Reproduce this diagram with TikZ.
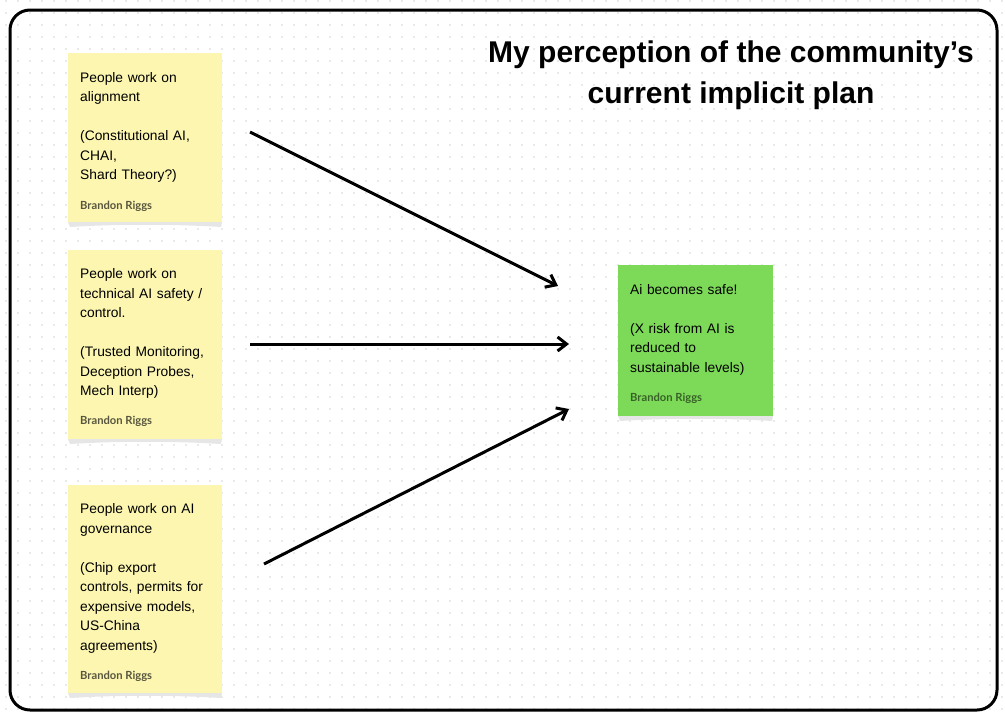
\documentclass[tikz,border=0pt]{standalone}
\usepackage{fontspec}
\setmainfont{Liberation Sans}
\newfontfamily\authfont{Lato}
\usetikzlibrary{arrows.meta,positioning}
\definecolor{stickyyel}{HTML}{FCF6B1}
\definecolor{stickygrn}{HTML}{7DDA58}
\definecolor{gridc}{HTML}{D4D4D4}
\definecolor{shadowc}{HTML}{E6E6E6}
\tikzset{
  note/.style={anchor=north west,minimum width=154pt,inner sep=0pt,outer sep=0pt},
  body/.style={anchor=base west,text width=142pt,align=left,inner sep=0pt,
               font=\fontsize{13.8}{19.5}\selectfont},
  auth/.style={anchor=base west,inner sep=0pt,text=black!50!stickyyel!70!black,
               font=\authfont\bfseries\fontsize{11.2}{13}\selectfont},
  ttl/.style={align=center,inner sep=0pt,font=\bfseries\fontsize{30}{41}\selectfont},
  ar/.style ={-{Straight Barb[length=9pt,width=14pt]},line width=3pt},
}

\begin{document}
\begin{tikzpicture}[x=1pt,y=-1pt]
  \useasboundingbox (0,0) rectangle (1005,716);
  % dotted board
  \foreach \i in {0,...,83}
    \foreach \j in {0,...,59}
      \fill[gridc] (6+12*\i,1+12*\j) circle (0.9);
  \draw[line width=3pt,rounded corners=20pt] (10,10) rectangle (997,710);

  \node[ttl] (title) at (731,75) {My perception of the community’s\\current implicit plan};

  % sticky notes
  \node[note,fill=stickyyel,minimum height=169pt] (align) at (68,53) {};
  \node[note,fill=stickyyel,minimum height=189pt] (tech)  at (68,250) {};
  \node[note,fill=stickyyel,minimum height=208pt] (gov)   at (68,485) {};
  \node[note,fill=stickygrn,minimum width=155pt,minimum height=151pt] (safe) at (618,265) {};
  \foreach \n in {align,tech,gov,safe}
    \fill[shadowc] (\n.south west) -- (\n.south east)
      -- ([shift={(-1,5)}]\n.south east)
      .. controls ([shift={(-50,2)}]\n.south east) and ([shift={(50,2)}]\n.south west)
      .. ([shift={(2,5)}]\n.south west) -- cycle;

  \node[body] (alignT) at ([shift={(12,29)}]align.north west)
    {People work on\\alignment\\[19.5pt](Constitutional AI,\\CHAI,\\Shard Theory?)};
  \node[auth] (alignA) at ([shift={(12,-13)}]align.south west) {Brandon Riggs};

  \node[body] (techT) at ([shift={(12,28.5)}]tech.north west)
    {People work on\\technical AI safety /\\control.\\[19.5pt](Trusted Monitoring,\\Deception Probes,\\Mech Interp)};
  \node[auth] (techA) at ([shift={(12,-15)}]tech.south west) {Brandon Riggs};

  \node[body] (govT) at ([shift={(12,28.5)}]gov.north west)
    {People work on AI\\governance\\[19.5pt](Chip export\\controls, permits for\\expensive models,\\US-China\\agreements)};
  \node[auth] (govA) at ([shift={(12,-14)}]gov.south west) {Brandon Riggs};

  \node[body] (safeT) at ([shift={(12,29)}]safe.north west)
    {Ai becomes safe!\\[19.5pt](X risk from AI is\\reduced to\\sustainable levels)};
  \node[auth,text=black!55!stickygrn] (safeA) at ([shift={(12,-15)}]safe.south west) {Brandon Riggs};

  % arrows
  \coordinate (s1) at (250,132);
  \coordinate (e1) at (558,286);
  \coordinate (s2) at (250,344);
  \coordinate (e2) at (569,344);
  \coordinate (s3) at (264,564);
  \coordinate (e3) at (569,409);
  \draw[ar] (s1) -- (e1);
  \draw[ar] (s2) -- (e2);
  \draw[ar] (s3) -- (e3);
\end{tikzpicture}
\end{document}
